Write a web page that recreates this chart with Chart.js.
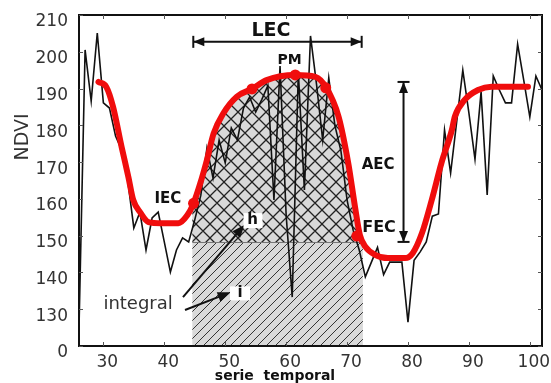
<!DOCTYPE html>
<html>
<head>
<meta charset="utf-8">
<script src="https://cdn.jsdelivr.net/npm/chart.js@4.4.1/dist/chart.umd.min.js"></script>
<style>
  html, body { margin: 0; padding: 0; background: #fff; }
  canvas { display: block; }
</style>
</head>
<body>
<canvas id="chart" width="551" height="383"></canvas>
<script>
// NDVI time series with fitted curve and phenology metrics

const xTicks = [30, 40, 50, 60, 70, 80, 90, 100];
const yTicks = [120, 130, 140, 150, 160, 170, 180, 190, 200, 210];
const yTickLabels = ['0', '130', '140', '150', '160', '170', '180', '190', '200', '210'];

// raw series (one value per time step)
const days = [26, 27, 28, 29, 30, 31, 32, 33, 34, 35, 36, 37, 38, 39, 40, 41, 42, 43, 44, 45,
  46, 47, 48, 49, 50, 51, 52, 53, 54, 55, 56, 57, 58, 59, 60, 61, 62, 63, 64, 65,
  66, 67, 68, 69, 70, 71, 72, 73, 74, 75, 76, 77, 78, 79, 80, 81, 82, 83, 84, 85,
  86, 87, 88, 89, 90, 91, 92, 93, 94, 95, 96, 97, 98, 99, 100, 101, 102];
const ndvi = [125, 200.5, 186.6, 205.1, 186.1, 184.7, 177.1, 173.3, 165, 152.1, 156.4, 146.1, 154.8, 156.4, 148.3, 140.1, 146.1, 149.4, 148.3, 154.3,
  161, 173.8, 165.7, 176, 169.8, 179.3, 176, 184.7, 187.7, 183.6, 187, 190.8, 159.7, 196.1, 155.6, 133.3, 194.5, 162.4, 204.3, 191,
  176, 192.9, 180, 173, 159.7, 151.5, 146.1, 138.8, 142.8, 146.8, 139.4, 142.8, 142.8, 142.8, 126.5, 143.3, 145.6, 148.3, 155.3, 155.9,
  178.7, 167, 181, 195, 183.4, 170.8, 189.1, 161.1, 193.4, 189.6, 186.1, 186.1, 202.1, 192.3, 182.3, 193.4, 189.6];

// smoothed fit
const fitX = [29.2, 30.5, 31.6, 33.0, 34.1, 34.9, 36.1, 37.4, 39.5, 42.3, 43.8, 44.8, 45.9, 47.0, 48.1, 49.7,
  51.9, 54.4, 56.8, 61.5, 64.8, 66.6, 68.6, 70.2, 71.3, 72.1, 73.0, 74.6, 76.7, 79.5, 80.8, 82.3, 83.9,
  85.5, 87.2, 87.7, 89.3, 91.5, 93.7, 99.7];
const fitY = [191.8, 190.4, 185.0, 174.1, 166.0, 159.7, 156.2, 153.7, 153.4, 153.4, 155.6, 158.8, 164.2, 170.6, 177.8, 183.3,
  187.8, 189.9, 192.3, 193.7, 193.2, 190.2, 182.4, 169.7, 157.9, 150.2, 147.0, 144.8, 143.9, 143.9, 145.3, 150.7, 159.7,
  169.8, 178.7, 182.4, 186.9, 189.6, 190.5, 190.5];

// phenology points: IEC, two shoulders, PM, FEC
const phenoX = [44.8, 54.4, 61.5, 66.5, 71.6];
const phenoY = [158.8, 189.9, 193.7, 190.2, 149.9];

// integral area
const seasonStart = 44.6;
const seasonEnd = 72.6;
const baseLevel = 148.3;
const peakLevel = 191.8;

const fitColor = '#f00d0d';
const ink = '#111';
const font = 'DejaVu Sans';

function hatch(size, cross, lw, fg) {
  const c = document.createElement('canvas');
  c.width = c.height = size;
  const g = c.getContext('2d');
  g.fillStyle = '#d9d9d9';
  g.fillRect(0, 0, size, size);
  g.strokeStyle = fg;
  g.lineWidth = lw;
  g.beginPath();
  g.moveTo(0, size); g.lineTo(size, 0);
  g.moveTo(-size / 2, size / 2); g.lineTo(size / 2, -size / 2);
  g.moveTo(size / 2, size * 1.5); g.lineTo(size * 1.5, size / 2);
  if (cross) {
    g.moveTo(0, 0); g.lineTo(size, size);
    g.moveTo(size / 2, -size / 2); g.lineTo(size * 1.5, size / 2);
    g.moveTo(-size / 2, size / 2); g.lineTo(size / 2, size * 1.5);
  }
  g.stroke();
  return g.createPattern(c, 'repeat');
}

const ctx0 = document.getElementById('chart').getContext('2d');
const diagFill = hatch(9, false, 1, '#333');
const crossFill = hatch(14, true, 1.3, '#222');

const shadePlugin = {
  id: 'shade',
  beforeDatasetsDraw(chart) {
    const { ctx, chartArea: a, scales: { x, y } } = chart;
    const x0 = x.getPixelForValue(seasonStart), x1 = x.getPixelForValue(seasonEnd);
    const yb = y.getPixelForValue(baseLevel), y0 = y.getPixelForValue(y.min);

    ctx.save();
    ctx.fillStyle = diagFill;
    ctx.fillRect(x0, yb, x1 - x0, y0 - yb);

    ctx.beginPath();
    ctx.rect(x0, a.top, x1 - x0, yb - a.top);
    ctx.clip();
    const line = chart.getDatasetMeta(1).dataset;
    line.updateControlPoints(a, 'x');
    const pts = line.points;
    ctx.beginPath();
    line.path(ctx);
    ctx.lineTo(pts[pts.length - 1].x, yb + 1);
    ctx.lineTo(pts[0].x, yb + 1);
    ctx.closePath();
    ctx.fillStyle = crossFill;
    ctx.fill();
    ctx.restore();

    ctx.save();
    ctx.strokeStyle = '#777';
    ctx.lineWidth = 1;
    ctx.beginPath();
    ctx.moveTo(x0, Math.round(yb) + 0.5);
    ctx.lineTo(x1, Math.round(yb) + 0.5);
    ctx.stroke();
    ctx.restore();
  }
};

function head(ctx, x, y, ang, len, hw) {
  const c = Math.cos(ang), s = Math.sin(ang);
  ctx.beginPath();
  ctx.moveTo(x, y);
  ctx.lineTo(x - len * c + hw * s, y - len * s - hw * c);
  ctx.lineTo(x - len * c - hw * s, y - len * s + hw * c);
  ctx.closePath();
  ctx.fill();
}

function dimArrow(ctx, ax, ay, bx, by) {
  const ang = Math.atan2(by - ay, bx - ax);
  ctx.beginPath();
  ctx.moveTo(ax, ay);
  ctx.lineTo(bx, by);
  ctx.stroke();
  [[ax, ay, ang + Math.PI], [bx, by, ang]].forEach(([px, py, a]) => {
    head(ctx, px, py, a, 11, 4.5);
    const nx = -Math.sin(a), ny = Math.cos(a);
    ctx.beginPath();
    ctx.moveTo(px + nx * 6, py + ny * 6);
    ctx.lineTo(px - nx * 6, py - ny * 6);
    ctx.stroke();
  });
}

function arrow(ctx, ax, ay, bx, by) {
  const ang = Math.atan2(by - ay, bx - ax);
  ctx.beginPath();
  ctx.moveTo(ax, ay);
  ctx.lineTo(bx - 8 * Math.cos(ang), by - 8 * Math.sin(ang));
  ctx.stroke();
  head(ctx, bx, by, ang, 13, 5);
}

function label(ctx, text, x, y, size, bold, color) {
  ctx.font = (bold ? 'bold ' : '') + size + 'px "' + font + '"';
  ctx.fillStyle = color || ink;
  ctx.textAlign = 'center';
  ctx.textBaseline = 'middle';
  ctx.fillText(text, x, y);
}

const annotatePlugin = {
  id: 'annotate',
  afterDatasetsDraw(chart) {
    const { ctx, chartArea: a, scales: { x, y } } = chart;
    const X = v => x.getPixelForValue(v), Y = v => y.getPixelForValue(v);

    ctx.save();
    ctx.strokeStyle = ink;
    ctx.fillStyle = ink;
    ctx.lineWidth = 2;

    // LEC: season length
    dimArrow(ctx, X(44.76), Y(202.7), X(72.4), Y(202.7));
    // AEC: season amplitude
    dimArrow(ctx, X(79.27), Y(peakLevel), X(79.27), Y(baseLevel));

    // integral pointers
    arrow(ctx, X(43.07), Y(133.3), X(53.2), Y(153.0));
    arrow(ctx, X(43.4), Y(129.8), X(50.9), Y(134.6));

    // h / i boxes
    ctx.fillStyle = '#fff';
    ctx.fillRect(X(54.48) - 9, Y(154.1) - 7.5, 19, 15);
    ctx.fillRect(X(52.43) - 10, Y(134.3) - 7, 20, 14);

    label(ctx, 'h', X(54.48), Y(154.1), 15, true);
    label(ctx, 'i', X(52.43), Y(134.3), 15, true);
    label(ctx, 'LEC', X(57.5), Y(205.5), 19, true);
    label(ctx, 'PM', X(60.55), Y(197.8), 14, true);
    label(ctx, 'IEC', X(40.6), Y(160.0), 15, true);
    label(ctx, 'FEC', X(75.25), Y(152.1), 16, true);
    label(ctx, 'AEC', X(75.1), Y(169.2), 15, true);
    label(ctx, 'integral', X(35.7), Y(131.2), 18, false, '#333');

    // frame with inward ticks
    ctx.strokeStyle = ink;
    ctx.lineWidth = 2;
    ctx.strokeRect(a.left, a.top, a.right - a.left, a.bottom - a.top);
    ctx.strokeStyle = '#555';
    ctx.lineWidth = 1;
    ctx.beginPath();
    xTicks.forEach(v => {
      const px = Math.round(X(v)) + 0.5;
      ctx.moveTo(px, a.top); ctx.lineTo(px, a.top + 4);
      ctx.moveTo(px, a.bottom); ctx.lineTo(px, a.bottom - 4);
    });
    yTicks.forEach(v => {
      const py = Math.round(Y(v)) + 0.5;
      ctx.moveTo(a.left, py); ctx.lineTo(a.left + 4, py);
      ctx.moveTo(a.right, py); ctx.lineTo(a.right - 4, py);
    });
    ctx.stroke();

    // axis titles
    label(ctx, 'serie  temporal', 275, 376, 14, true);
    ctx.translate(23, 137);
    ctx.rotate(-Math.PI / 2);
    label(ctx, 'NDVI', 0, 0, 19, false, '#333');
    ctx.restore();
  }
};

new Chart(ctx0, {
  type: 'line',
  data: {
    datasets: [
      {
        label: 'fenología',
        data: phenoX.map((v, i) => ({ x: v, y: phenoY[i] })),
        showLine: false,
        pointRadius: 5.5,
        pointBackgroundColor: fitColor,
        pointBorderWidth: 0
      },
      {
        label: 'ajuste',
        data: fitX.map((v, i) => ({ x: v, y: fitY[i] })),
        borderColor: fitColor,
        borderWidth: 6,
        borderCapStyle: 'round',
        borderJoinStyle: 'round',
        cubicInterpolationMode: 'monotone',
        pointRadius: 0
      },
      {
        label: 'NDVI',
        data: days.map((d, i) => ({ x: d, y: ndvi[i] })),
        borderColor: ink,
        borderWidth: 1.6,
        tension: 0,
        pointRadius: 0
      }
    ]
  },
  options: {
    responsive: false,
    animation: false,
    layout: { padding: { top: 15, right: 9, left: 0, bottom: 0 } },
    plugins: { legend: { display: false }, tooltip: { enabled: false } },
    scales: {
      x: {
        type: 'linear',
        min: 26,
        max: 102,
        grid: { display: false, drawTicks: false },
        border: { display: false },
        afterBuildTicks: s => { s.ticks = xTicks.map(v => ({ value: v })); },
        afterFit: s => { s.height = 37; s.paddingLeft = 0; s.paddingRight = 0; },
        ticks: {
          autoSkip: false, maxRotation: 0, labelOffset: 4, padding: 6,
          color: '#333', font: { family: font, size: 17 }
        }
      },
      y: {
        type: 'linear',
        min: 120,
        max: 210,
        grid: { display: false, drawTicks: false },
        border: { display: false },
        afterBuildTicks: s => { s.ticks = yTicks.map(v => ({ value: v })); },
        afterFit: s => { s.width = 79; s.paddingTop = 0; s.paddingBottom = 0; },
        ticks: {
          autoSkip: false, labelOffset: 7, padding: 11,
          color: '#333', font: { family: font, size: 17 },
          callback: v => yTickLabels[yTicks.indexOf(v)]
        }
      }
    }
  },
  plugins: [shadePlugin, annotatePlugin]
});
</script>
</body>
</html>
